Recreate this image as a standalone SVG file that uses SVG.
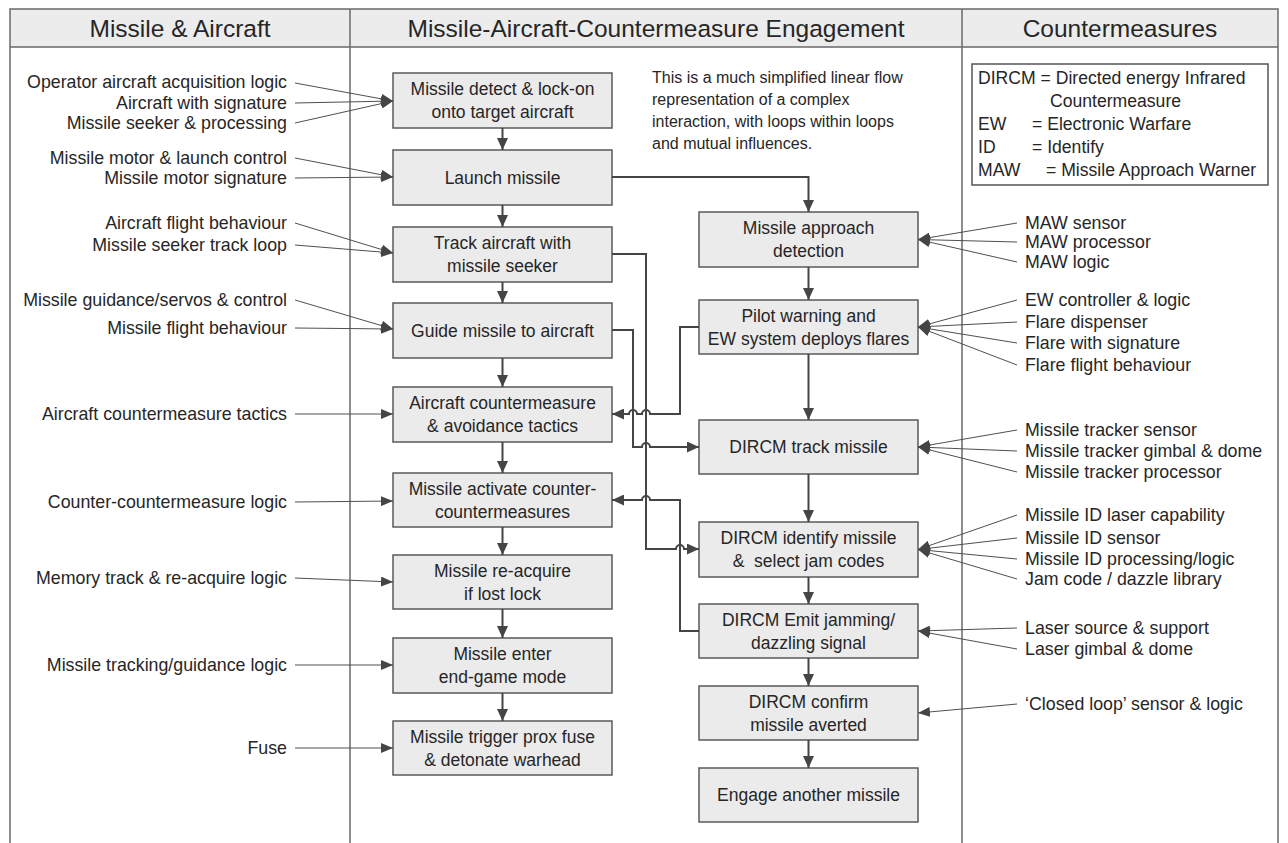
<svg xmlns="http://www.w3.org/2000/svg" width="1288" height="843" viewBox="0 0 1288 843">
<style>
  .frame{stroke:#6a6a6a;stroke-width:1.5;fill:none}
  .hdr{fill:#ececec;stroke:none}
  .htxt{font-family:"Liberation Sans",Arial,sans-serif;font-size:24.5px;fill:#262626;text-anchor:middle}
  .t{font-family:"Liberation Sans",Arial,sans-serif;font-size:17.5px;fill:#262626}
  .lbl{font-size:17.8px}
  .nt{font-size:16px}
  .lg{font-size:17.6px}
  .r{text-anchor:end}
  .c{text-anchor:middle}
  .node rect{fill:#ebebeb;stroke:#5a5a5a;stroke-width:1.5}
  .flow{stroke:#454545;stroke-width:2;fill:none;marker-end:url(#ah)}
  .feed{stroke:#505050;stroke-width:1;fill:none;marker-end:url(#ah2)}
  .legend{fill:#fff;stroke:#555;stroke-width:1.5}
</style>
<defs>
  <marker id="ah" markerUnits="userSpaceOnUse" viewBox="0 0 12 11" refX="12" refY="5.5" markerWidth="12" markerHeight="11" orient="auto">
    <path d="M0,0 L12,5.5 L0,11 z" fill="#454545"/>
  </marker>
  <marker id="ah2" markerUnits="userSpaceOnUse" viewBox="0 0 12 10" refX="12" refY="5" markerWidth="12" markerHeight="10" orient="auto">
    <path d="M0,0 L12,5 L0,10 z" fill="#454545"/>
  </marker>
</defs>

<!-- swimlane frame -->
<g id="frame">
  <rect class="hdr" x="10" y="9" width="1268" height="38"/>
  <path class="frame" d="M10,843 V9 H1278 V843 M10,47 H1278 M350,9 V843 M962,9 V843"/>
  <text class="htxt" x="180" y="37">Missile &amp; Aircraft</text>
  <text class="htxt" x="656" y="37">Missile-Aircraft-Countermeasure Engagement</text>
  <text class="htxt" x="1120" y="37">Countermeasures</text>
</g>

<!-- note and abbreviations -->
<g id="note">
  <text class="t nt" x="652" y="83">This is a much simplified linear flow</text>
  <text class="t nt" x="652" y="105">representation of a complex</text>
  <text class="t nt" x="652" y="127">interaction, with loops within loops</text>
  <text class="t nt" x="652" y="149">and mutual influences.</text>
</g>
<g id="legend">
  <rect class="legend" x="972" y="64" width="296" height="121"/>
  <text class="t lg" x="978" y="84">DIRCM = Directed energy Infrared</text>
  <text class="t lg" x="1050" y="107">Countermeasure</text>
  <text class="t lg" x="978" y="130">EW</text>
  <text class="t lg" x="1032" y="130">= Electronic Warfare</text>
  <text class="t lg" x="978" y="153">ID</text>
  <text class="t lg" x="1032" y="153">= Identify</text>
  <text class="t lg" x="978" y="176">MAW</text>
  <text class="t lg" x="1046" y="176">= Missile Approach Warner</text>
</g>

<!-- missile-side engagement steps -->
<g id="n-lockon" class="node"><rect x="393" y="73" width="219" height="55"/>
  <text class="t c" x="502.5" y="95">Missile detect &amp; lock-on</text>
  <text class="t c" x="502.5" y="118">onto target aircraft</text></g>
<g id="n-launch" class="node"><rect x="393" y="150" width="219" height="55"/>
  <text class="t c" x="502.5" y="183.5">Launch missile</text></g>
<g id="n-track" class="node"><rect x="393" y="227" width="219" height="55"/>
  <text class="t c" x="502.5" y="249">Track aircraft with</text>
  <text class="t c" x="502.5" y="272">missile seeker</text></g>
<g id="n-guide" class="node"><rect x="393" y="303" width="219" height="55"/>
  <text class="t c" x="502.5" y="336.5">Guide missile to aircraft</text></g>
<g id="n-tactics" class="node"><rect x="393" y="387" width="219" height="55"/>
  <text class="t c" x="502.5" y="409">Aircraft countermeasure</text>
  <text class="t c" x="502.5" y="432">&amp; avoidance tactics</text></g>
<g id="n-ccm" class="node"><rect x="393" y="473" width="219" height="54"/>
  <text class="t c" x="502.5" y="494.5">Missile activate counter-</text>
  <text class="t c" x="502.5" y="517.5">countermeasures</text></g>
<g id="n-reacq" class="node"><rect x="393" y="555" width="219" height="54"/>
  <text class="t c" x="502.5" y="576.5">Missile re-acquire</text>
  <text class="t c" x="502.5" y="599.5">if lost lock</text></g>
<g id="n-endgame" class="node"><rect x="393" y="638" width="219" height="55"/>
  <text class="t c" x="502.5" y="660">Missile enter</text>
  <text class="t c" x="502.5" y="683">end-game mode</text></g>
<g id="n-fuse" class="node"><rect x="393" y="721" width="219" height="54"/>
  <text class="t c" x="502.5" y="742.5">Missile trigger prox fuse</text>
  <text class="t c" x="502.5" y="765.5">&amp; detonate warhead</text></g>

<!-- countermeasure-side steps -->
<g id="n-maw" class="node"><rect x="699" y="212" width="219" height="55"/>
  <text class="t c" x="808.5" y="234">Missile approach</text>
  <text class="t c" x="808.5" y="257">detection</text></g>
<g id="n-flares" class="node"><rect x="699" y="300" width="219" height="54"/>
  <text class="t c" x="808.5" y="321.5">Pilot warning and</text>
  <text class="t c" x="808.5" y="344.5">EW system deploys flares</text></g>
<g id="n-dtrack" class="node"><rect x="699" y="420" width="219" height="54"/>
  <text class="t c" x="808.5" y="453">DIRCM track missile</text></g>
<g id="n-ident" class="node"><rect x="699" y="522" width="219" height="55"/>
  <text class="t c" x="808.5" y="544">DIRCM identify missile</text>
  <text class="t c" x="808.5" y="567" xml:space="preserve">&amp;  select jam codes</text></g>
<g id="n-emit" class="node"><rect x="699" y="604" width="219" height="54"/>
  <text class="t c" x="808.5" y="625.5">DIRCM Emit jamming/</text>
  <text class="t c" x="808.5" y="648.5">dazzling signal</text></g>
<g id="n-confirm" class="node"><rect x="699" y="686" width="219" height="54"/>
  <text class="t c" x="808.5" y="707.5">DIRCM confirm</text>
  <text class="t c" x="808.5" y="730.5">missile averted</text></g>
<g id="n-next" class="node"><rect x="699" y="768" width="219" height="54"/>
  <text class="t c" x="808.5" y="801">Engage another missile</text></g>

<!-- contributing factors, missile & aircraft -->
<g id="in-left">
  <text class="t lbl r" x="287" y="88">Operator aircraft acquisition logic</text>
  <text class="t lbl r" x="287" y="109">Aircraft with signature</text>
  <text class="t lbl r" x="287" y="129">Missile seeker &amp; processing</text>
  <text class="t lbl r" x="287" y="164">Missile motor &amp; launch control</text>
  <text class="t lbl r" x="287" y="184">Missile motor signature</text>
  <text class="t lbl r" x="287" y="229">Aircraft flight behaviour</text>
  <text class="t lbl r" x="287" y="251">Missile seeker track loop</text>
  <text class="t lbl r" x="287" y="306">Missile guidance/servos &amp; control</text>
  <text class="t lbl r" x="287" y="334">Missile flight behaviour</text>
  <text class="t lbl r" x="287" y="420">Aircraft countermeasure tactics</text>
  <text class="t lbl r" x="287" y="508">Counter-countermeasure logic</text>
  <text class="t lbl r" x="287" y="584">Memory track &amp; re-acquire logic</text>
  <text class="t lbl r" x="287" y="671">Missile tracking/guidance logic</text>
  <text class="t lbl r" x="287" y="754">Fuse</text>
</g>

<!-- contributing factors, countermeasures -->
<g id="in-right">
  <text class="t lbl" x="1025" y="229">MAW sensor</text>
  <text class="t lbl" x="1025" y="248">MAW processor</text>
  <text class="t lbl" x="1025" y="268">MAW logic</text>
  <text class="t lbl" x="1025" y="306">EW controller &amp; logic</text>
  <text class="t lbl" x="1025" y="328">Flare dispenser</text>
  <text class="t lbl" x="1025" y="349">Flare with signature</text>
  <text class="t lbl" x="1025" y="371">Flare flight behaviour</text>
  <text class="t lbl" x="1025" y="436">Missile tracker sensor</text>
  <text class="t lbl" x="1025" y="457">Missile tracker gimbal &amp; dome</text>
  <text class="t lbl" x="1025" y="478">Missile tracker processor</text>
  <text class="t lbl" x="1025" y="521">Missile ID laser capability</text>
  <text class="t lbl" x="1025" y="544">Missile ID sensor</text>
  <text class="t lbl" x="1025" y="565">Missile ID processing/logic</text>
  <text class="t lbl" x="1025" y="585">Jam code / dazzle library</text>
  <text class="t lbl" x="1025" y="634">Laser source &amp; support</text>
  <text class="t lbl" x="1025" y="655">Laser gimbal &amp; dome</text>
  <text class="t lbl" x="1025" y="710">‘Closed loop’ sensor &amp; logic</text>
</g>

<g id="connectors">
  <!-- main flow, missile side -->
  <path class="flow" d="M502.5,128 V150"/>
  <path class="flow" d="M502.5,205 V227"/>
  <path class="flow" d="M502.5,282 V303"/>
  <path class="flow" d="M502.5,358 V387"/>
  <path class="flow" d="M502.5,442 V473"/>
  <path class="flow" d="M502.5,527 V555"/>
  <path class="flow" d="M502.5,609 V638"/>
  <path class="flow" d="M502.5,693 V721"/>
  <!-- main flow, countermeasure side -->
  <path class="flow" d="M612,177 H808.5 V212"/>
  <path class="flow" d="M808.5,267 V300"/>
  <path class="flow" d="M808.5,354 V420"/>
  <path class="flow" d="M808.5,474 V522"/>
  <path class="flow" d="M808.5,577 V604"/>
  <path class="flow" d="M808.5,658 V686"/>
  <path class="flow" d="M808.5,740 V768"/>
  <!-- cross links with line hops -->
  <path class="flow" d="M612,254 H646 V549 H676 A4,4 0 0 1 684,549 H699"/>
  <path class="flow" d="M612,330 H633 V447 H642 A4,4 0 0 1 650,447 H699"/>
  <path class="flow" d="M699,327 H680 V414 H650 A4,4 0 0 0 642,414 H637 A4,4 0 0 0 629,414 H612"/>
  <path class="flow" d="M699,631 H680 V500 H650 A4,4 0 0 0 642,500 H612"/>

  <!-- factor feeds, left -->
  <path class="feed" d="M295,83 L393,101"/>
  <path class="feed" d="M295,103 L393,101"/>
  <path class="feed" d="M295,123 L393,101"/>
  <path class="feed" d="M295,158 L393,177"/>
  <path class="feed" d="M295,178 L393,177"/>
  <path class="feed" d="M295,223 L393,253"/>
  <path class="feed" d="M295,245 L393,253"/>
  <path class="feed" d="M295,300 L393,329"/>
  <path class="feed" d="M295,328 L393,329"/>
  <path class="feed" d="M295,414 L393,414"/>
  <path class="feed" d="M295,502 L393,501"/>
  <path class="feed" d="M295,578 L393,582"/>
  <path class="feed" d="M295,665 L393,665"/>
  <path class="feed" d="M295,748 L393,748"/>

  <!-- factor feeds, right -->
  <path class="feed" d="M1017,223 L918,239.5"/>
  <path class="feed" d="M1017,242 L918,239.5"/>
  <path class="feed" d="M1017,262 L918,239.5"/>
  <path class="feed" d="M1017,300 L918,327"/>
  <path class="feed" d="M1017,322 L918,327"/>
  <path class="feed" d="M1017,343 L918,327"/>
  <path class="feed" d="M1017,365 L918,327"/>
  <path class="feed" d="M1017,430 L918,447"/>
  <path class="feed" d="M1017,451 L918,447"/>
  <path class="feed" d="M1017,472 L918,447"/>
  <path class="feed" d="M1017,515 L918,549.5"/>
  <path class="feed" d="M1017,538 L918,549.5"/>
  <path class="feed" d="M1017,559 L918,549.5"/>
  <path class="feed" d="M1017,579 L918,549.5"/>
  <path class="feed" d="M1017,628 L918,631"/>
  <path class="feed" d="M1017,649 L918,631"/>
  <path class="feed" d="M1017,704 L918,713"/>
</g>
</svg>
